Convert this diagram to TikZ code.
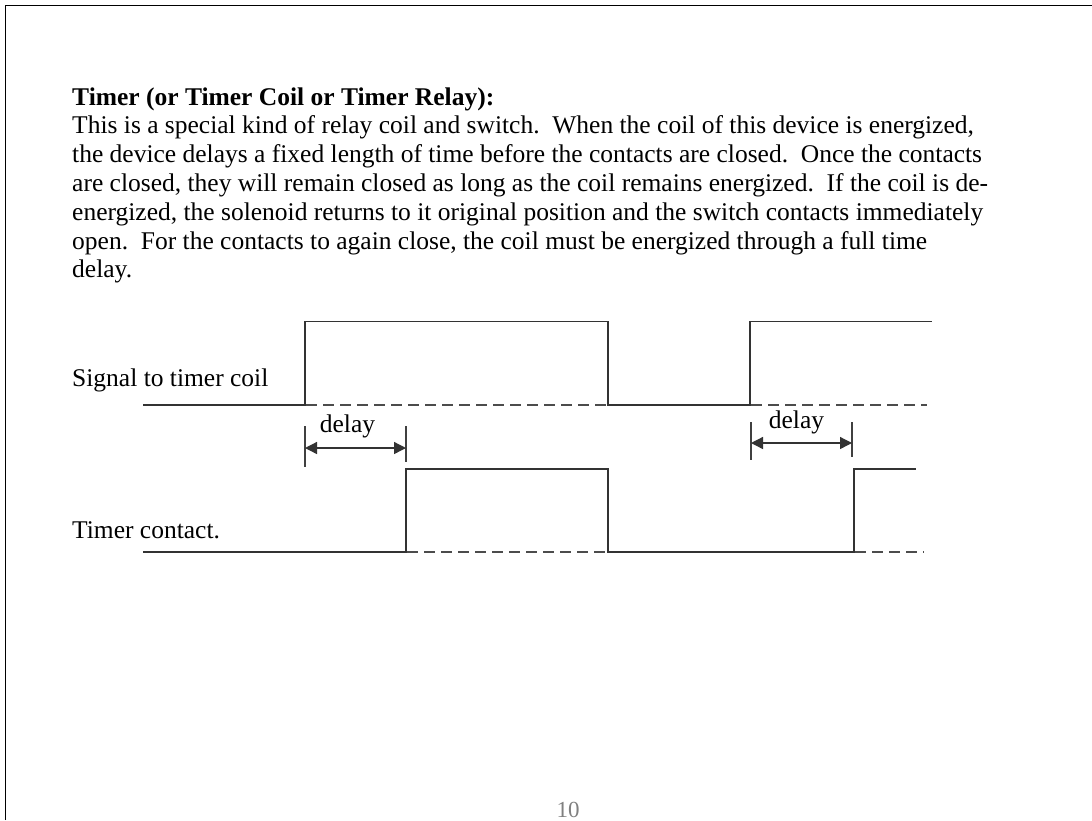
\documentclass[tikz,border=0pt]{standalone}
\usepackage{fontspec}
\setmainfont{Liberation Serif}
\usetikzlibrary{arrows.meta}
\begin{document}
\begin{tikzpicture}[x=1pt,y=-1pt,
  txt/.style={anchor=base west,inner sep=0pt,font=\fontsize{25.5}{28.8}\selectfont},
  dlabel/.style={anchor=base,inner sep=0pt,font=\fontsize{25.5}{28.8}\selectfont},
  wave/.style={line width=1.5pt,draw=black!80},
  dashwave/.style={line width=1.5pt,draw=black!70,dash pattern=on 11pt off 6pt},
  tickline/.style={line width=1.3pt,draw=black!75},
  dimline/.style={line width=1.3pt,draw=black!80,{Triangle[length=12pt,width=12pt]}-{Triangle[length=12pt,width=12pt]}},
]
\useasboundingbox (0,0) rectangle (1092,820);
\fill[white] (0,0) rectangle (1092,820);
\draw[line width=1.2pt] (5.5,820) -- (5.5,5.5) -- (1092,5.5);

\frenchspacing
\node[txt] (t0) at (72,105) {\textbf{Timer (or Timer Coil or Timer Relay):}};
\node[txt] (t1) at (72,133.8) {This is a special kind of relay coil and switch.\ \ When the coil of this device is energized,};
\node[txt] (t2) at (72,162.6) {the device delays a fixed length of time before the contacts are closed.\ \ Once the contacts};
\node[txt] (t3) at (72,191.4) {are closed, they will remain closed as long as the coil remains energized.\ \ If the coil is de-};
\node[txt] (t4) at (72,220.2) {energized, the solenoid returns to it original position and the switch contacts immediately};
\node[txt] (t5) at (72,249) {open.\ \ For the contacts to again close, the coil must be energized through a full time};
\node[txt] (t6) at (72,277.8) {delay.};

\node[txt] (lsig) at (72,386) {Signal to timer coil};
\node[txt] (lcon) at (72,538) {Timer contact.};

% signal to timer coil
\draw[wave] (143,405) -- (305,405) -- (305,321.5) -- (608,321.5) -- (608,405) -- (750,405) -- (750,321.5) -- (932,321.5);
\draw[dashwave] (306,405) -- (607,405);
\draw[dashwave] (751,405) -- (927,405);

% timer contact
\draw[wave] (143,552) -- (406,552) -- (406,469) -- (608,469) -- (608,552) -- (854,552) -- (854,469) -- (916,469);
\draw[dashwave] (407,552) -- (607,552);
\draw[dashwave] (855,552) -- (924,552);

% delay 1
\coordinate (d1a) at (305,448);
\coordinate (d1b) at (406,448);
\draw[tickline] (305,426) -- (305,467);
\draw[tickline] (406,426) -- (406,462);
\draw[dimline] (d1a) -- (d1b);
\node[dlabel] (dl1) at (347.5,432) {delay};

% delay 2
\coordinate (d2a) at (751,443);
\coordinate (d2b) at (852,443);
\draw[tickline] (751,422) -- (751,460);
\draw[tickline] (852,422) -- (852,457);
\draw[dimline] (d2a) -- (d2b);
\node[dlabel] (dl2) at (796.5,428) {delay};

\node[anchor=base,inner sep=0pt,text=black!50,font=\fontsize{23}{23}\selectfont] (pg) at (568,817) {10};
\end{tikzpicture}
\end{document}
